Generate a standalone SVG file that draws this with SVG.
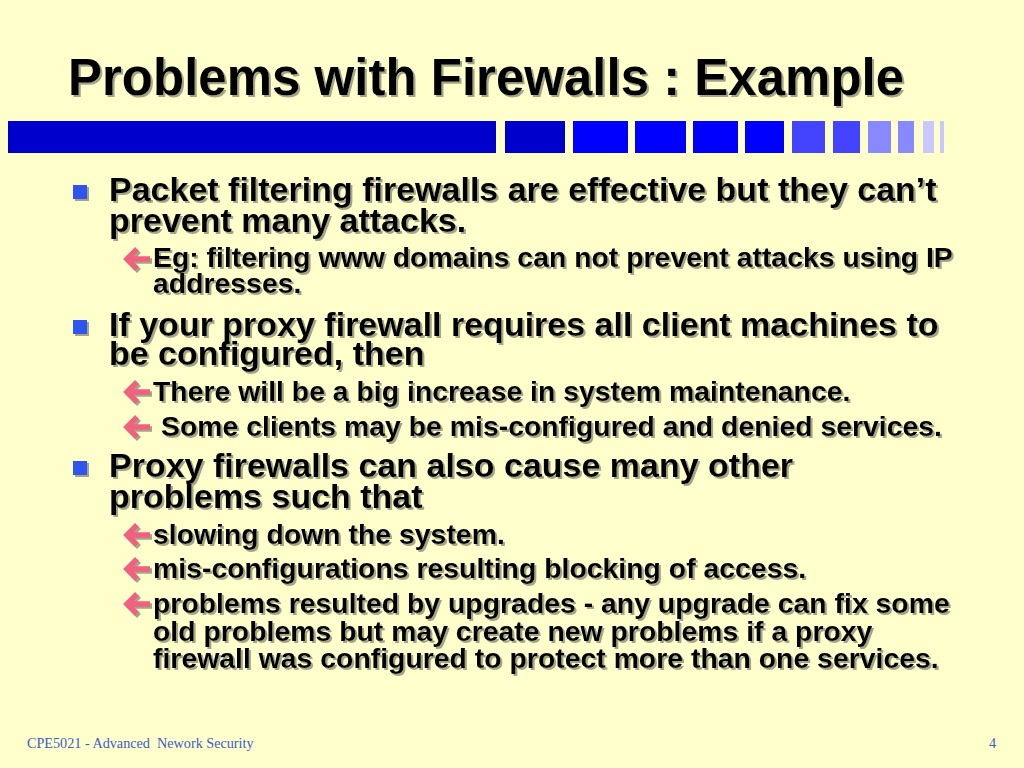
<svg xmlns="http://www.w3.org/2000/svg" xmlns:xlink="http://www.w3.org/1999/xlink" width="1024" height="768" viewBox="0 0 1024 768">
<defs>
<style>
.t{font-family:"Liberation Sans",Arial,sans-serif;font-weight:bold;fill:#000}
.title{font-size:51px}
.b{font-size:34px}
.s{font-size:28.4px}
.foot{font-family:"Liberation Serif","Times New Roman",serif;font-size:14.2px;fill:#3c5cc8}
.sq{fill:#2f55f0}
.d1{fill:#0000cc}.d2{fill:#0000ff}.d3{fill:#4444ff}.d4{fill:#8888ff}.d5{fill:#c8c8ff}
</style>
<filter id="sh" x="-5%" y="-20%" width="110%" height="140%">
<feDropShadow dx="2" dy="2" stdDeviation="0.6" flood-color="#9a9a80" flood-opacity="0.9"/>
</filter>
<g id="arr"><path d="M27,0 H4 M14,-10 L4,0 L14,10" fill="none" stroke="#f0607f" stroke-width="5.5" stroke-linejoin="miter"/></g>
</defs>
<rect width="1024" height="768" fill="#ffffcc"/>
<g id="title" filter="url(#sh)">
<text class="t title" x="68" y="95">Problems with Firewalls : Example</text>
</g>
<g id="bars">
<rect class="d1" x="8" y="121" width="488" height="32"/>
<rect class="d1" x="505" y="121" width="60" height="32"/>
<rect class="d2" x="573" y="121" width="55" height="32"/>
<rect class="d2" x="635" y="121" width="51" height="32"/>
<rect class="d2" x="693" y="121" width="45" height="32"/>
<rect class="d2" x="745" y="121" width="39" height="32"/>
<rect class="d3" x="792" y="121" width="33" height="32"/>
<rect class="d3" x="833" y="121" width="27" height="32"/>
<rect class="d4" x="868" y="121" width="23" height="32"/>
<rect class="d4" x="898" y="121" width="16" height="32"/>
<rect class="d5" x="923" y="121" width="11" height="32"/>
<rect class="d5" x="940" y="121" width="4" height="32"/>
</g>
<g id="item1" filter="url(#sh)">
<rect class="sq" x="73" y="185" width="14" height="14"/>
<text class="t b" x="109" y="201">Packet filtering firewalls are effective but they can’t</text>
<text class="t b" x="109" y="232">prevent many attacks.</text>
<use xlink:href="#arr" x="123" y="259"/>
<text class="t s" x="153" y="267">Eg: filtering www domains can not prevent attacks using IP</text>
<text class="t s" x="153" y="293">addresses.</text>
</g>
<g id="item2" filter="url(#sh)">
<rect class="sq" x="73" y="320" width="14" height="14"/>
<text class="t b" x="109" y="336">If your proxy firewall requires all client machines to</text>
<text class="t b" x="109" y="365">be configured, then</text>
<use xlink:href="#arr" x="123" y="392"/>
<text class="t s" x="153" y="401">There will be a big increase in system maintenance.</text>
<use xlink:href="#arr" x="123" y="427"/>
<text class="t s" x="161" y="436">Some clients may be mis-configured and denied services.</text>
</g>
<g id="item3" filter="url(#sh)">
<rect class="sq" x="73" y="461" width="14" height="14"/>
<text class="t b" x="109" y="477">Proxy firewalls can also cause many other</text>
<text class="t b" x="109" y="508">problems such that</text>
<use xlink:href="#arr" x="123" y="535"/>
<text class="t s" x="153" y="544">slowing down the system.</text>
<use xlink:href="#arr" x="123" y="569"/>
<text class="t s" x="153" y="578">mis-configurations resulting blocking of access.</text>
<use xlink:href="#arr" x="123" y="604"/>
<text class="t s" x="153" y="613">problems resulted by upgrades - any upgrade can fix some</text>
<text class="t s" x="153" y="641">old problems but may create new problems if a proxy</text>
<text class="t s" x="153" y="668">firewall was configured to protect more than one services.</text>
</g>
<g id="footer">
<text class="foot" x="27" y="748" xml:space="preserve">CPE5021 - Advanced  Nework Security</text>
<text class="foot" x="989" y="748">4</text>
</g>
</svg>
